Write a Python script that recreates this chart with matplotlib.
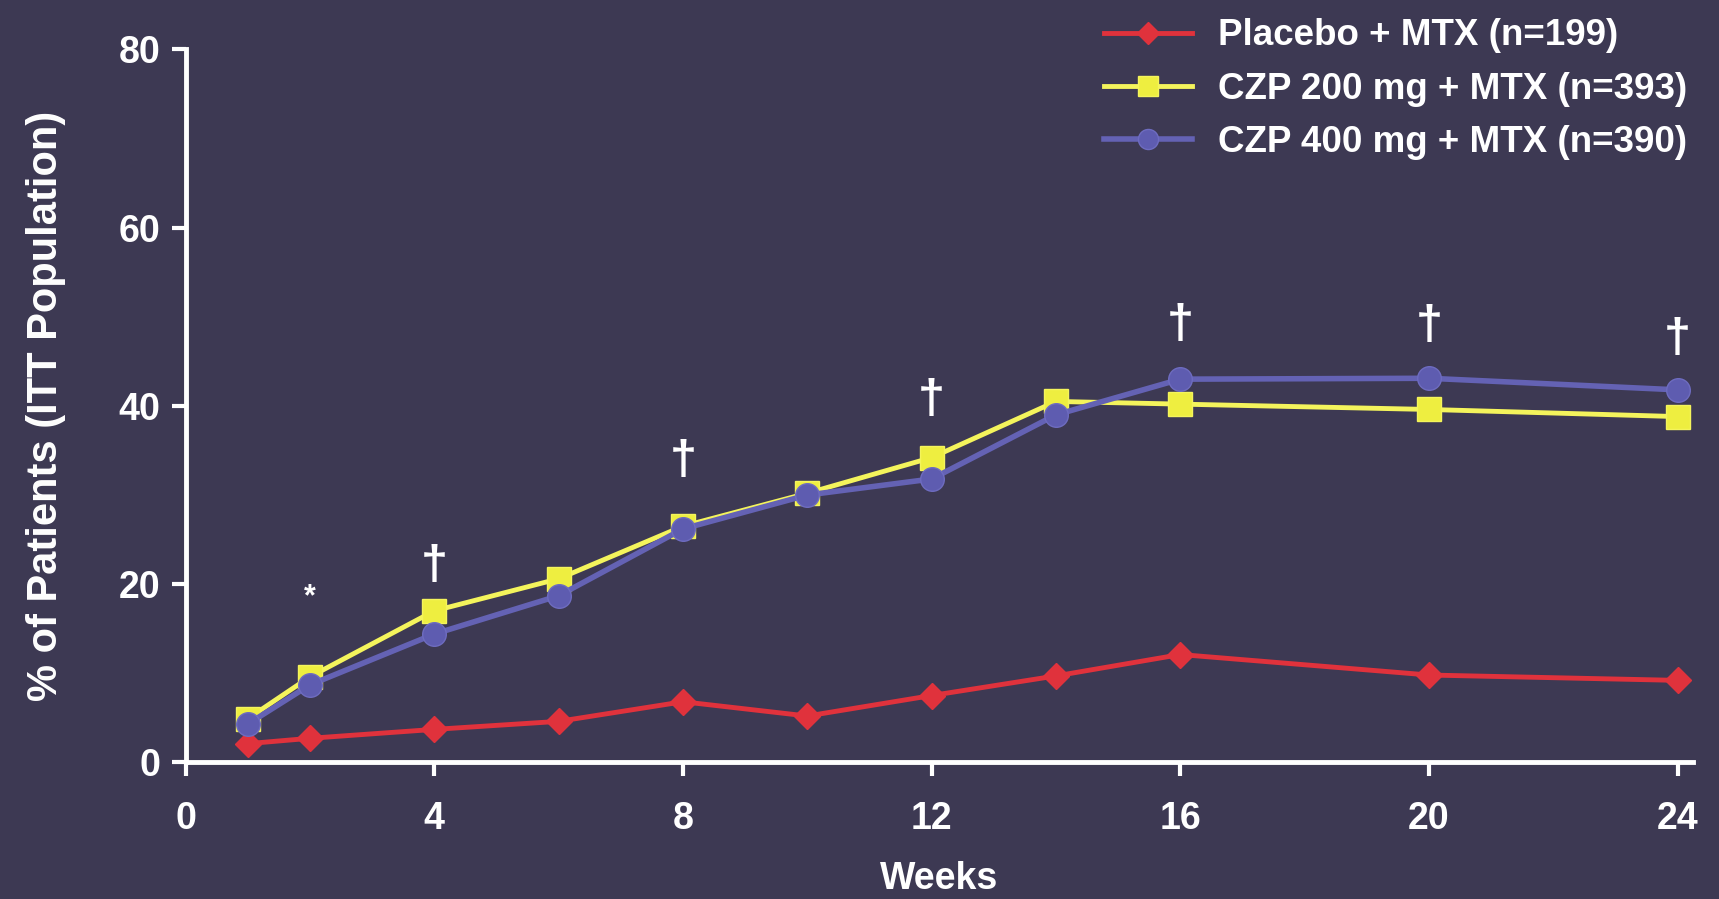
import matplotlib.pyplot as plt

weeks = [1, 2, 4, 6, 8, 10, 12, 14, 16, 20, 24]
placebo = [2.1, 2.7, 3.7, 4.6, 6.8, 5.2, 7.5, 9.7, 12.1, 9.8, 9.2]
czp200 = [4.9, 9.6, 17.0, 20.6, 26.5, 30.2, 34.2, 40.5, 40.2, 39.6, 38.8]
czp400 = [4.3, 8.7, 14.4, 18.7, 26.2, 30.0, 31.8, 39.0, 43.0, 43.1, 41.8]

labels = ["Placebo + MTX (n=199)", "CZP 200 mg + MTX (n=393)", "CZP 400 mg + MTX (n=390)"]

# significance marks: (week, y, symbol)
sig_weeks = [2, 4, 8, 12, 16, 20, 24]
sig_y = [18.5, 22.0, 33.8, 40.6, 49.0, 48.9, 47.4]
sig_sym = ["*", "\u2020", "\u2020", "\u2020", "\u2020", "\u2020", "\u2020"]

bg = "#3d3953"
plt.rcParams["font.family"] = ["Liberation Sans", "DejaVu Sans"]
plt.rcParams["font.weight"] = "bold"

fig = plt.figure(figsize=(17.19, 8.99), dpi=100, facecolor=bg)
ax = fig.add_axes([0.108, 0.152, 0.877, 0.793], facecolor=bg)

ax.plot(weeks, placebo, color="#e0323c", lw=3.5, marker="D", ms=13,
        mfc="#e0323c", mec="#e0323c", label=labels[0], zorder=3)
ax.plot(weeks, czp200, color="#f4f45c", lw=3.5, marker="s", ms=17,
        mfc="#eeee40", mec="#f4f45c", label=labels[1], zorder=4)
ax.plot(weeks, czp400, color="#6462b4", lw=4, marker="o", ms=17,
        mfc="#5e5cb0", mec="#6e6cc0", label=labels[2], zorder=5)

for wk, yv, s in zip(sig_weeks, sig_y, sig_sym):
    ax.text(wk, yv, s, color="white", fontsize=35 if s != "*" else 22,
            ha="center", va="center", fontweight="bold")

ax.set_xlim(0, 24.25)
ax.set_ylim(0, 80)
ax.set_xticks([0, 4, 8, 12, 16, 20, 24])
ax.set_yticks([0, 20, 40, 60, 80])

for side in ["top", "right"]:
    ax.spines[side].set_visible(False)
for side in ["left", "bottom"]:
    ax.spines[side].set_color("white")
    ax.spines[side].set_linewidth(3.5)
ax.tick_params(colors="white", width=3, length=10, labelsize=27, pad=8)
ax.tick_params(axis="x", pad=18)
for lab in ax.get_xticklabels() + ax.get_yticklabels():
    lab.set_fontweight("bold")

ax.set_ylabel("% of Patients (ITT Population)", color="white", fontsize=30,
              fontweight="bold", labelpad=38)
ax.set_xlabel("Weeks", color="white", fontsize=27, fontweight="bold", labelpad=17)

leg = ax.legend(loc="upper right", bbox_to_anchor=(1.018, 1.09), frameon=False,
                fontsize=26.5, handlelength=2.4, labelspacing=0.5, handletextpad=0.7,
                markerscale=0.85)
for t in leg.get_texts():
    t.set_color("white")
    t.set_fontweight("bold")

fig.savefig("out.png", dpi=100, facecolor=bg)
